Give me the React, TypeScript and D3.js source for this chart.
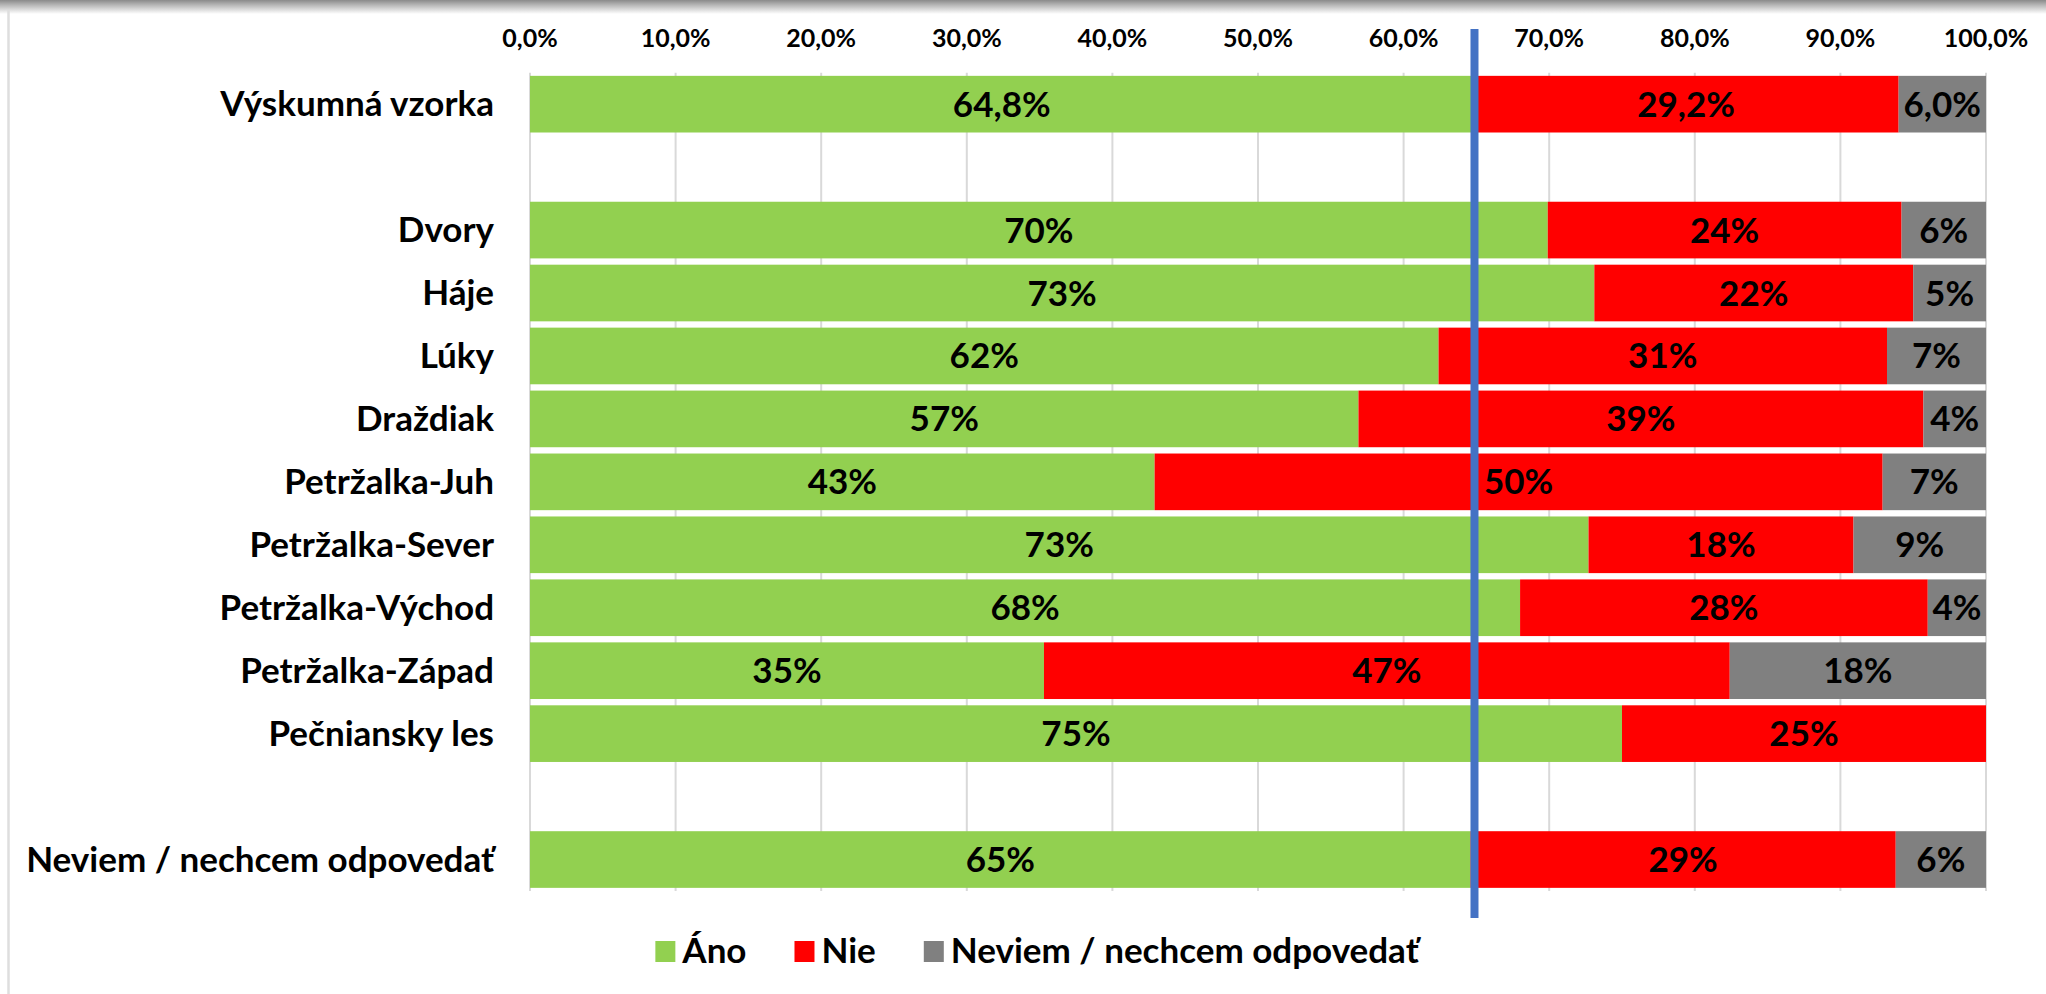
import React, { useEffect, useRef } from "react";
import * as d3 from "d3";

const categories = [
  "Výskumná vzorka",
  "",
  "Dvory",
  "Háje",
  "Lúky",
  "Draždiak",
  "Petržalka-Juh",
  "Petržalka-Sever",
  "Petržalka-Východ",
  "Petržalka-Západ",
  "Pečniansky les",
  " ",
  "Neviem / nechcem odpovedať",
];

// null = empty spacer row
const anoValues = [64.8, null, 69.9, 73.1, 62.4, 56.9, 42.9, 72.7, 68.0, 35.3, 75.0, null, 64.6];
const nieValues = [29.2, null, 24.3, 21.9, 30.8, 38.8, 50.0, 18.2, 28.0, 47.1, 25.0, null, 29.2];
const neviemValues = [6.0, null, 5.8, 5.0, 6.8, 4.3, 7.1, 9.1, 4.0, 17.6, 0, null, 6.2];
const labelDecimals = [1, 0, 0, 0, 0, 0, 0, 0, 0, 0, 0, 0, 0];

const seriesNames = ["Áno", "Nie", "Neviem / nechcem odpovedať"];
const seriesColors = ["#92d050", "#ff0000", "#808080"];
const tickValues = [0, 10, 20, 30, 40, 50, 60, 70, 80, 90, 100];

const W = 2046;
const H = 994;
const FONT = "Lato, 'Open Sans', sans-serif";

export default function App() {
  const ref = useRef<SVGSVGElement | null>(null);

  useEffect(() => {
    document.body.style.margin = "0";
    document.body.style.overflow = "hidden";
    const svg = d3.select(ref.current);
    svg.selectAll("*").remove();

    const x = d3.scaleLinear().domain([0, 100]).range([530, 1986]);
    const y = d3
      .scaleBand<string>()
      .domain(categories)
      .range([72.7, 891])
      .paddingInner(0.1)
      .paddingOuter(0.05);

    // frame: top shadow + left border
    const defs = svg.append("defs");
    const grad = defs
      .append("linearGradient")
      .attr("id", "topShadow")
      .attr("x1", 0)
      .attr("y1", 0)
      .attr("x2", 0)
      .attr("y2", 1);
    grad.append("stop").attr("offset", "0%").attr("stop-color", "#8a8a8a");
    grad.append("stop").attr("offset", "35%").attr("stop-color", "#b5b5b5");
    grad.append("stop").attr("offset", "100%").attr("stop-color", "#ffffff");
    svg.append("rect").attr("x", 0).attr("y", 0).attr("width", W).attr("height", H).attr("fill", "#fff");
    svg.append("rect").attr("x", 0).attr("y", 0).attr("width", W).attr("height", 14).attr("fill", "url(#topShadow)");
    svg
      .append("line")
      .attr("x1", 8.5)
      .attr("x2", 8.5)
      .attr("y1", 10)
      .attr("y2", H)
      .attr("stroke", "#dedede")
      .attr("stroke-width", 2.5);

    // gridlines
    svg
      .append("g")
      .selectAll("line")
      .data(tickValues)
      .join("line")
      .attr("x1", (d) => x(d))
      .attr("x2", (d) => x(d))
      .attr("y1", 72.7)
      .attr("y2", 891)
      .attr("stroke", "#d9d9d9")
      .attr("stroke-width", 2);

    // tick labels
    const fmt1 = (v: number, dec: number) => v.toFixed(dec).replace(".", ",") + "%";
    svg
      .append("g")
      .selectAll("text")
      .data(tickValues)
      .join("text")
      .attr("x", (d) => x(d))
      .attr("y", 46.5)
      .attr("text-anchor", "middle")
      .attr("font-family", FONT)
      .attr("font-weight", 700)
      .attr("font-size", 25)
      .attr("fill", "#000")
      .text((d) => fmt1(d, 1));

    // category labels
    svg
      .append("g")
      .selectAll("text")
      .data(categories)
      .join("text")
      .attr("x", 494)
      .attr("y", (d) => (y(d) as number) + y.bandwidth() / 2 + 12)
      .attr("text-anchor", "end")
      .attr("font-family", FONT)
      .attr("font-weight", 700)
      .attr("font-size", 35)
      .attr("fill", "#000")
      .text((d) => d.trim());

    // stacked segments
    type Seg = { cat: string; s: number; x0: number; x1: number; v: number; dec: number };
    const segs: Seg[] = [];
    categories.forEach((c, i) => {
      const vals = [anoValues[i], nieValues[i], neviemValues[i]];
      if (vals[0] === null) return;
      let acc = 0;
      vals.forEach((v, s) => {
        const vv = v as number;
        segs.push({ cat: c, s, x0: acc, x1: acc + vv, v: vv, dec: labelDecimals[i] });
        acc += vv;
      });
    });

    svg
      .append("g")
      .selectAll("rect")
      .data(segs.filter((d) => d.v > 0))
      .join("rect")
      .attr("x", (d) => x(d.x0))
      .attr("width", (d) => Math.max(0, x(Math.min(100, d.x1)) - x(d.x0)))
      .attr("y", (d) => y(d.cat) as number)
      .attr("height", y.bandwidth())
      .attr("fill", (d) => seriesColors[d.s]);

    // reference line at sample "Áno" value
    const refX = x(anoValues[0] as number) + 1;
    svg
      .append("line")
      .attr("x1", refX)
      .attr("x2", refX)
      .attr("y1", 29)
      .attr("y2", 918)
      .attr("stroke", "#4472c4")
      .attr("stroke-width", 8);

    // value labels
    svg
      .append("g")
      .selectAll("text")
      .data(segs.filter((d) => d.v > 0))
      .join("text")
      .attr("x", (d) => x((d.x0 + Math.min(100, d.x1)) / 2))
      .attr("y", (d) => (y(d.cat) as number) + y.bandwidth() / 2 + 12.5)
      .attr("text-anchor", "middle")
      .attr("font-family", FONT)
      .attr("font-weight", 700)
      .attr("font-size", 35)
      .attr("fill", "#000")
      .text((d) => (d.dec ? fmt1(d.v, 1) : Math.round(d.v) + "%"));

    // legend
    const lg = svg.append("g");
    const items = lg
      .selectAll("g")
      .data(seriesNames)
      .join("g");
    items
      .append("rect")
      .attr("width", 20)
      .attr("height", 21)
      .attr("y", 941)
      .attr("fill", (_d, i) => seriesColors[i]);
    const texts = items
      .append("text")
      .attr("x", 27)
      .attr("y", 963)
      .attr("font-family", FONT)
      .attr("font-weight", 700)
      .attr("font-size", 35)
      .attr("fill", "#000")
      .text((d) => d);
    const widths: number[] = [];
    texts.each(function () {
      widths.push((this as SVGTextElement).getComputedTextLength());
    });
    const gap = 48;
    const itemW = widths.map((w) => 27 + w);
    const total = d3.sum(itemW) + gap * (itemW.length - 1);
    let cx = 1037 - total / 2;
    items.attr("transform", (_d, i) => {
      const t = `translate(${cx},0)`;
      cx += itemW[i] + gap;
      return t;
    });
  }, []);

  return <svg ref={ref} width={W} height={H} style={{ display: "block" }} />;
}
